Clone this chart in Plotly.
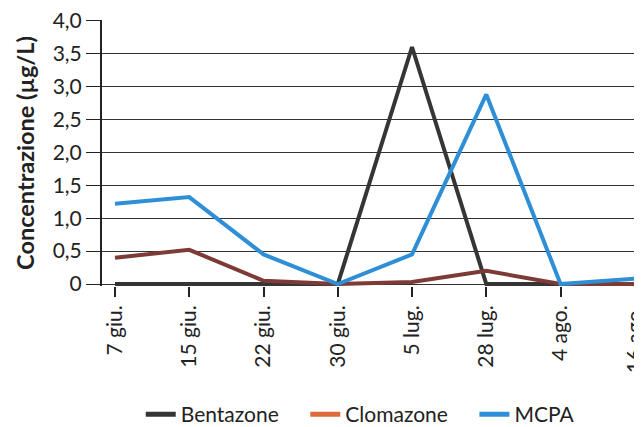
import plotly.graph_objects as go

dates = ["7 giu.", "15 giu.", "22 giu.", "30 giu.", "5 lug.", "28 lug.", "4 ago.", "16 ago."]
bentazone = [0.0, 0.0, 0.0, 0.0, 3.6, 0.0, 0.0, 0.0]
clomazone = [0.4, 0.52, 0.05, 0.0, 0.03, 0.2, 0.0, 0.0]
mcpa = [1.22, 1.32, 0.45, 0.0, 0.45, 2.88, 0.0, 0.08]

series = [
    ("Bentazone", bentazone, "#353535", "#353535"),
    ("Clomazone", clomazone, "#7e3a36", "#e0693c"),
    ("MCPA", mcpa, "#2f8fd6", "#2f8fd6"),
]

FONT = "Lato"
PAD = "\u00a0" * 4
fig = go.Figure()
for name, vals, col, lcol in series:
    fig.add_trace(go.Scatter(x=list(range(len(dates))), y=vals, mode="lines",
                             line=dict(color=col, width=4), showlegend=False, name=name))
for i, (name, vals, col, lcol) in enumerate(series):
    label = name + (PAD if i < len(series) - 1 else "")
    fig.add_trace(go.Scatter(x=[None], y=[None], mode="lines", name=label,
                             line=dict(color=lcol, width=5), showlegend=True))

fig.update_layout(
    width=642, height=427,
    margin=dict(l=94, r=10, t=12, b=149),
    paper_bgcolor="white", plot_bgcolor="white",
    font=dict(family=FONT, color="#222", size=20),
    xaxis=dict(
        range=[-0.175, 7.07], automargin=False,
        tickmode="array", tickvals=list(range(len(dates))), ticktext=dates,
        tickangle=-90, ticks="outside", ticklen=10, tickcolor="#222", tickwidth=1.5,
        showgrid=False, zeroline=False, showline=False,
        tickfont=dict(size=21, family=FONT), ticklabeloverflow="allow",
    ),
    yaxis=dict(
        range=[-0.03, 4.01], automargin=False,
        tickvals=[0, 0.5, 1, 1.5, 2, 2.5, 3, 3.5, 4],
        ticktext=["0", "0,5", "1,0", "1,5", "2,0", "2,5", "3,0", "3,5", "4,0"],
        ticks="outside", ticklen=14, tickcolor="#222", tickwidth=1.2,
        showgrid=True, gridcolor="#333", gridwidth=1.2,
        zeroline=False, showline=True, linecolor="#222", linewidth=2,
        tickfont=dict(size=21, family=FONT), ticklabeloverflow="allow",
        title=dict(text="<b>Concentrazione (µg/L)</b>", font=dict(size=23.5, family=FONT), standoff=11),
    ),
    legend=dict(orientation="h", x=0.072, xanchor="left", yref="container", y=0.0, yanchor="bottom",
                font=dict(size=21, family=FONT), itemwidth=30),
)

fig.write_html("out.html")
